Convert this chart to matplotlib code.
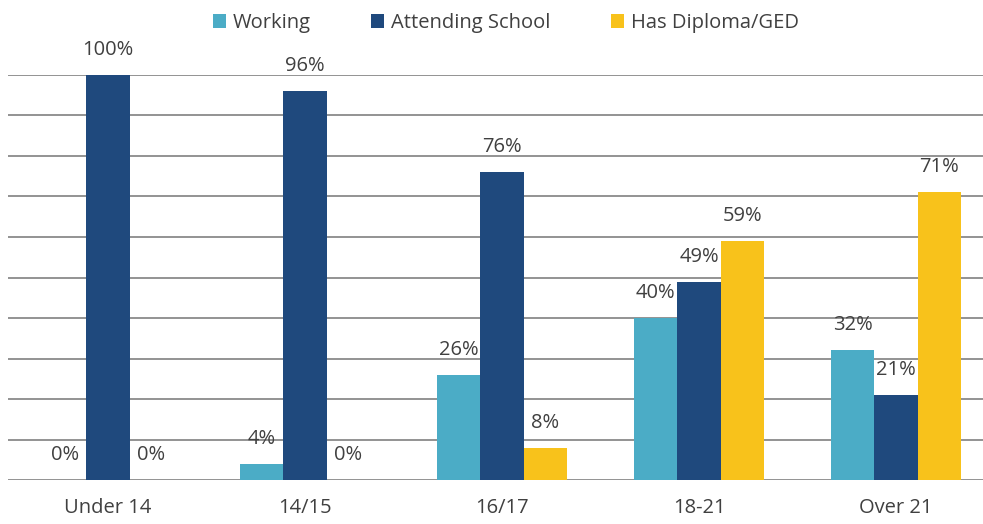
import numpy as np
import matplotlib.pyplot as plt

plt.rcParams['font.family'] = ['Open Sans', 'DejaVu Sans']

# datos (porcentajes)
grupos = ["Under 14", "14/15", "16/17", "18-21", "Over 21"]
series = ["Working", "Attending School", "Has Diploma/GED"]
working = [0, 4, 26, 40, 32]
attending = [100, 96, 76, 49, 21]
diploma = [0, 0, 8, 59, 71]

colores = ["#4bacc6", "#1f497d", "#f8c21b"]
color_texto = "#404040"

fig = plt.figure(figsize=(9.83, 5.24), dpi=100)
ax = fig.add_axes([8 / 983, 44 / 524, 975 / 983, 405 / 524])

x = np.arange(len(grupos))
ancho = 0.22
valores = [working, attending, diploma]

# líneas de cuadrícula horizontales
for yv in np.arange(0, 101, 10):
    ax.axhline(yv, color="#8a8a8a", lw=1.3, zorder=0)

for i, (nombre, vals, col) in enumerate(zip(series, valores, colores)):
    pos = x + (i - 1) * ancho
    ax.bar(pos, vals, width=ancho, color=col, label=nombre, zorder=2)
    for xp, v in zip(pos, vals):
        ax.annotate(f"{v}%", (xp, v), xytext=(0, 25), textcoords="offset pixels",
                    ha="center", va="center", fontsize=14.5, color=color_texto)

ax.set_xlim(-100 / 197, 875 / 197)
ax.set_ylim(0, 100)
ax.set_xticks(x)
ax.set_xticklabels(grupos, fontsize=14.5, color=color_texto)
ax.tick_params(axis="x", length=0, pad=13)
ax.set_yticks([])
for s in ax.spines.values():
    s.set_visible(False)

leg = fig.legend(loc="center", bbox_to_anchor=(506 / 983, 1 - 23 / 524), ncol=3,
                 frameon=False, fontsize=14.5, handlelength=0.65, handleheight=0.65,
                 handletextpad=0.35, columnspacing=3.0)
for t in leg.get_texts():
    t.set_color(color_texto)

fig.savefig("out.png", dpi=100)
